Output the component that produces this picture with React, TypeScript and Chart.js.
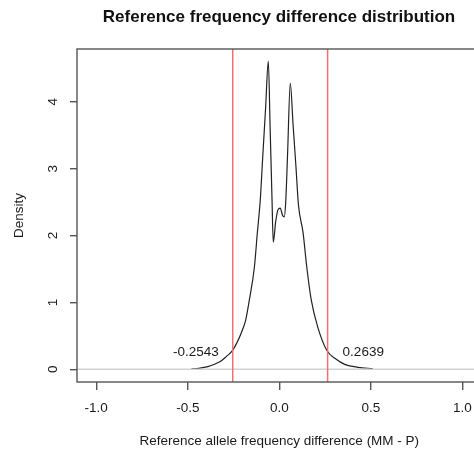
import React, { useEffect, useRef } from "react";
import { Chart, registerables } from "chart.js";

Chart.register(...registerables);

const titleText = "Reference frequency difference distribution";
const xTitle = "Reference allele frequency difference (MM - P)";
const yTitle = "Density";

const densX = [-0.48, -0.44, -0.39, -0.35, -0.32, -0.29, -0.256, -0.224, -0.2, -0.185, -0.164, -0.136, -0.12, -0.104, -0.09, -0.075, -0.06, -0.05, -0.04, -0.033, -0.02, -0.008, 0.005, 0.018, 0.027, 0.035, 0.045, 0.06, 0.075, 0.09, 0.105, 0.13, 0.15, 0.175, 0.21, 0.26, 0.305, 0.36, 0.43, 0.51];
const densY = [0.005, 0.015, 0.04, 0.08, 0.12, 0.19, 0.28, 0.44, 0.6, 0.72, 1.03, 1.53, 2.04, 2.53, 3.2, 3.9, 4.61, 3.6, 2.57, 1.9, 2.2, 2.38, 2.41, 2.3, 2.28, 2.5, 3.2, 4.28, 3.67, 3.07, 2.45, 2.04, 1.53, 1.03, 0.63, 0.28, 0.16, 0.07, 0.03, 0.01];

const thresholds = [-0.2543, 0.2639];
const thresholdLabels = ["-0.2543", "0.2639"];
const labelY = 0.25;

const FONT = "'Liberation Sans', Arial, Helvetica, sans-serif";
const FS = 13.5;

const overlay = {
  id: "overlay",
  afterDatasetsDraw(chart: any) {
    const { ctx, chartArea, scales } = chart;
    const x = scales.x;
    const y = scales.y;
    ctx.save();
    ctx.beginPath();
    ctx.rect(chartArea.left, chartArea.top, chartArea.right - chartArea.left, chartArea.bottom - chartArea.top);
    ctx.clip();
    ctx.strokeStyle = "#d2d2d2";
    ctx.lineWidth = 1.6;
    const y0 = y.getPixelForValue(0);
    ctx.beginPath();
    ctx.moveTo(chartArea.left, y0);
    ctx.lineTo(chartArea.right, y0);
    ctx.stroke();
    ctx.strokeStyle = "rgb(245,110,110)";
    ctx.lineWidth = 1.5;
    thresholds.forEach((t) => {
      const px = x.getPixelForValue(t);
      ctx.beginPath();
      ctx.moveTo(px, chartArea.top);
      ctx.lineTo(px, chartArea.bottom);
      ctx.stroke();
    });
    ctx.restore();
    ctx.save();
    ctx.fillStyle = "#1a1a1a";
    ctx.font = `${FS}px ${FONT}`;
    ctx.textBaseline = "middle";
    thresholds.forEach((t, i) => {
      const px = x.getPixelForValue(t);
      const py = y.getPixelForValue(labelY);
      if (t < 0) {
        ctx.textAlign = "right";
        ctx.fillText(thresholdLabels[i], px - 14, py);
      } else {
        ctx.textAlign = "left";
        ctx.fillText(thresholdLabels[i], px + 15, py);
      }
    });
    ctx.strokeStyle = "#555";
    ctx.lineWidth = 1.4;
    ctx.strokeRect(chartArea.left, chartArea.top, chartArea.right - chartArea.left, chartArea.bottom - chartArea.top);
    ctx.restore();
  },
};

export default function App() {
  const ref = useRef<HTMLCanvasElement>(null);
  useEffect(() => {
    if (!ref.current) return;
    const points = densX.map((v, i) => ({ x: v, y: densY[i] }));
    const chart = new Chart(ref.current, {
      type: "line",
      data: {
        datasets: [
          {
            data: points,
            borderColor: "#222",
            borderWidth: 1.2,
            pointRadius: 0,
            fill: false,
            cubicInterpolationMode: "monotone",
          },
        ],
      },
      options: {
        animation: false,
        responsive: false,
        events: [],
        layout: { padding: 0 },
        plugins: {
          legend: { display: false },
          tooltip: { enabled: false },
          title: {
            display: true,
            text: titleText,
            color: "#111",
            font: { family: FONT, size: 17, weight: "bold" },
            padding: { top: 7, bottom: 21.6 },
          },
        },
        scales: {
          x: {
            type: "linear",
            min: -1.105,
            max: 1.105,
            border: { display: false },
            grid: { drawOnChartArea: false, tickLength: 8, color: "#555", lineWidth: 1.4 },
            ticks: {
              stepSize: 0.5,
              includeBounds: false,
              color: "#1a1a1a",
              font: { family: FONT, size: FS },
              padding: 10,
              maxRotation: 0,
              callback: (v: any) => Number(v).toFixed(1),
            },
            title: {
              display: true,
              text: xTitle,
              color: "#1a1a1a",
              font: { family: FONT, size: FS },
              padding: { top: 0, bottom: 4 },
            },
            afterFit: (s: any) => {
              s.height = 71;
            },
          },
          y: {
            type: "linear",
            min: -0.19,
            max: 4.79,
            border: { display: false },
            grid: { drawOnChartArea: false, tickLength: 7, color: "#555", lineWidth: 1.4 },
            ticks: {
              stepSize: 1,
              includeBounds: false,
              color: "#1a1a1a",
              font: { family: FONT, size: FS },
              minRotation: 90,
              maxRotation: 90,
              crossAlign: "center",
              padding: 13,
              callback: (v: any) => String(Math.round(Number(v))),
            },
            title: {
              display: true,
              text: yTitle,
              color: "#1a1a1a",
              font: { family: FONT, size: FS },
              padding: { top: 11, bottom: 0 },
            },
            afterFit: (s: any) => {
              s.width = 77;
            },
          },
          yRight: {
            type: "linear",
            position: "right",
            display: true,
            min: 0,
            max: 1,
            border: { display: false },
            grid: { display: false },
            ticks: { display: false },
            afterFit: (s: any) => {
              s.width = 76.4;
            },
          },
        },
      },
      plugins: [overlay],
    } as any);
    return () => chart.destroy();
  }, []);
  return (
    <div style={{ position: "fixed", left: 0, top: 0, width: 474, height: 453, overflow: "hidden", background: "#fff" }}>
      <canvas ref={ref} width={558} height={453} style={{ width: 558, height: 453, display: "block" }} />
    </div>
  );
}
